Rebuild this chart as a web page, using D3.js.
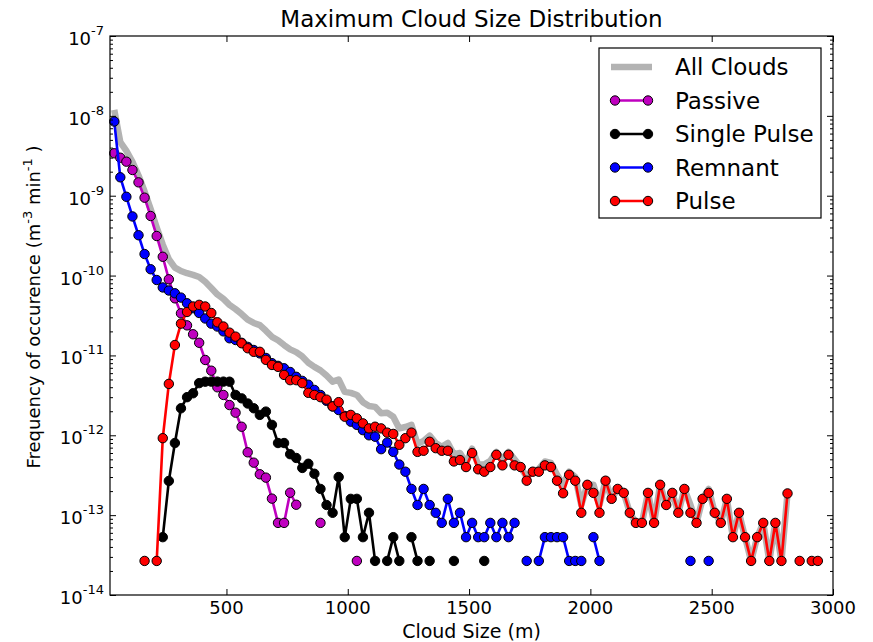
<!DOCTYPE html>
<html>
<head>
<meta charset="utf-8">
<script src="https://cdn.jsdelivr.net/npm/d3@7"></script>
<style>
  body { margin: 0; background: #fff; }
  text { font-family: "DejaVu Sans", sans-serif; fill: #000; }
</style>
</head>
<body>
<svg id="chart" width="873" height="642"></svg>
<script>
// Bin centres (m): 25 m bins starting at 37.5 m
const cloudSize = d3.range(119).map(i => 37.5 + 25 * i);

// Frequency of occurrence (m^-3 min^-1) per bin; null = empty bin
const passive = [3.4e-9,2.99e-9,2.67e-9,2.1e-9,1.47e-9,9.45e-10,5.57e-10,3.13e-10,1.72e-10,8.98e-11,
  5.19e-11,3.37e-11,2.38e-11,1.84e-11,1.44e-11,8.77e-12,6.44e-12,3.99e-12,3.2e-12,2.39e-12,
  1.92e-12,1.28e-12,6.12e-13,4.54e-13,3.25e-13,2.95e-13,1.61e-13,8.0e-14,8.0e-14,1.91e-13,
  1.35e-13,null,null,null,8.0e-14,null,null,null,null,null,2.67e-14];

const singlePulse = [null,null,null,null,null,null,null,null,5.3e-14,2.68e-13,
  8.0e-13,2.18e-12,3.0e-12,3.36e-12,4.5e-12,4.69e-12,4.7e-12,4.7e-12,4.7e-12,4.69e-12,
  3.2e-12,2.9e-12,2.5e-12,2.18e-12,1.8e-12,1.98e-12,1.35e-12,8.0e-13,8.0e-13,5.8e-13,
  5.2e-13,3.9e-13,4.4e-13,3.3e-13,2.13e-13,1.34e-13,1.07e-13,3.0e-13,5.3e-14,1.6e-13,
  1.6e-13,5.3e-14,1.07e-13,2.67e-14,null,2.67e-14,5.3e-14,2.67e-14,null,5.3e-14,
  2.67e-14,null,2.67e-14,null,null,null,2.67e-14,null,null,null,
  null,2.67e-14];

const remnant = [8.5e-9,1.7e-9,9.7e-10,5.5e-10,3.2e-10,1.86e-10,1.2e-10,8.8e-11,7.1e-11,6.5e-11,
  6.0e-11,5.3e-11,4.5e-11,3.9e-11,3.4e-11,2.9e-11,2.5e-11,2.3e-11,2.0e-11,1.64e-11,
  1.56e-11,1.44e-11,1.28e-11,1.17e-11,1.06e-11,9.3e-12,8.0e-12,7.4e-12,6.9e-12,6.2e-12,
  5.4e-12,4.8e-12,4.3e-12,3.7e-12,3.2e-12,2.7e-12,2.3e-12,2.07e-12,1.75e-12,1.48e-12,
  1.35e-12,1.16e-12,1.0e-12,9.6e-13,6.7e-13,8.1e-13,6.2e-13,4.3e-13,3.5e-13,2.13e-13,
  1.34e-13,2.13e-13,1.34e-13,1.07e-13,8.0e-14,1.6e-13,8.0e-14,1.07e-13,5.3e-14,8.0e-14,
  5.3e-14,5.3e-14,8.0e-14,5.3e-14,8.0e-14,5.3e-14,8.0e-14,null,2.67e-14,null,
  2.67e-14,5.3e-14,5.3e-14,5.3e-14,5.3e-14,2.67e-14,2.67e-14,2.67e-14,null,5.3e-14,
  2.67e-14,null,null,null,null,null,null,null,null,null,
  null,null,null,null,null,2.67e-14,null,null,2.67e-14];

const pulse = [null,null,null,null,null,2.67e-14,null,2.67e-14,9.2e-13,4.4e-12,
  1.35e-11,2.5e-11,3.5e-11,4.1e-11,4.3e-11,4.1e-11,3.4e-11,2.6e-11,2.3e-11,1.93e-11,
  1.72e-11,1.42e-11,1.23e-11,1.11e-11,1.11e-11,8.8e-12,7.6e-12,7.2e-12,5.7e-12,4.9e-12,
  4.9e-12,4.5e-12,3.4e-12,3.2e-12,3.0e-12,2.8e-12,2.3e-12,2.6e-12,1.71e-12,1.8e-12,
  1.63e-12,1.41e-12,1.22e-12,1.28e-12,1.22e-12,1.08e-12,1.04e-12,7.6e-13,9.2e-13,1.08e-12,
  6.2e-13,6.4e-13,8.3e-13,6.9e-13,6.4e-13,6.4e-13,4.7e-13,4.9e-13,4.0e-13,6.0e-13,
  3.75e-13,3.5e-13,4.0e-13,5.7e-13,4.2e-13,5.7e-13,4.2e-13,4.0e-13,2.7e-13,3.5e-13,
  3.5e-13,4.2e-13,4.0e-13,2.7e-13,1.88e-13,3.2e-13,2.7e-13,1.07e-13,2.4e-13,1.9e-13,
  1.07e-13,2.7e-13,1.6e-13,2.13e-13,1.9e-13,1.07e-13,8.0e-14,8.0e-14,1.9e-13,8.0e-14,
  2.4e-13,1.34e-13,1.9e-13,1.07e-13,2.13e-13,1.07e-13,8.0e-14,1.6e-13,1.9e-13,1.07e-13,
  8.0e-14,1.6e-13,5.3e-14,1.07e-13,5.3e-14,2.67e-14,5.3e-14,8.0e-14,2.67e-14,8.0e-14,
  2.67e-14,1.87e-13,null,2.67e-14,null,2.67e-14,2.67e-14,null,null];

const allClouds = [1.19e-8,4.7e-9,3.64e-9,2.65e-9,1.79e-9,1.13e-9,6.8e-10,4.0e-10,2.44e-10,1.6e-10,
  1.26e-10,1.14e-10,1.07e-10,1.02e-10,9.6e-11,8.35e-11,7.0e-11,5.8e-11,5.1e-11,4.3e-11,
  3.8e-11,3.3e-11,2.8e-11,2.55e-11,2.4e-11,2.04e-11,1.71e-11,1.55e-11,1.35e-11,1.19e-11,
  1.1e-11,9.7e-12,8.1e-12,7.2e-12,6.5e-12,5.6e-12,4.7e-12,5.0e-12,3.5e-12,3.4e-12,
  3.2e-12,2.6e-12,2.33e-12,2.27e-12,1.89e-12,1.92e-12,1.71e-12,1.22e-12,1.27e-12,1.35e-12,
  7.8e-13,8.5e-13,9.9e-13,8.0e-13,7.2e-13,8.0e-13,5.8e-13,6.0e-13,4.5e-13,6.8e-13,
  4.3e-13,4.3e-13,4.8e-13,6.2e-13,5.0e-13,6.2e-13,5.0e-13,4.0e-13,3.0e-13,3.5e-13,
  3.8e-13,4.7e-13,4.5e-13,3.2e-13,2.4e-13,3.5e-13,3.0e-13,1.34e-13,2.4e-13,2.4e-13,
  1.34e-13,2.7e-13,1.6e-13,2.13e-13,1.9e-13,1.07e-13,8.0e-14,8.0e-14,1.9e-13,8.0e-14,
  2.4e-13,1.34e-13,1.9e-13,1.07e-13,2.13e-13,1.34e-13,8.0e-14,1.6e-13,2.13e-13,1.07e-13,
  8.0e-14,1.6e-13,5.3e-14,1.07e-13,5.3e-14,2.67e-14,5.3e-14,8.0e-14,2.67e-14,8.0e-14,
  2.67e-14,1.87e-13];

const xTicks = [500, 1000, 1500, 2000, 2500, 3000];
const yExponents = [-14, -13, -12, -11, -10, -9, -8, -7];

const series = [
  { name: "Passive",      values: passive,     color: "#bf00bf" },
  { name: "Single Pulse", values: singlePulse, color: "#000000" },
  { name: "Remnant",      values: remnant,     color: "#0000ff" },
  { name: "Pulse",        values: pulse,       color: "#ff0000" }
];

const svg = d3.select("#chart");
const M = { left: 110, right: 833, top: 36, bottom: 595 };

const x = d3.scaleLinear().domain([20, 3000]).range([M.left, M.right]);
const y = d3.scaleLog().domain([1e-14, 1e-7]).range([M.bottom, M.top]);

const pts = vals => vals.map((v, i) => ({ x: cloudSize[i], v }));
const line = d3.line()
  .defined(d => d.v != null && d.v > 0)
  .x(d => x(d.x)).y(d => y(d.v));

const plot = svg.append("g");

// Total distribution as a thick grey band
plot.append("path")
  .datum(pts(allClouds))
  .attr("d", line)
  .attr("fill", "none")
  .attr("stroke", "#b3b3b3")
  .attr("stroke-width", 6.5)
  .attr("stroke-linejoin", "round");

series.forEach(s => {
  const g = plot.append("g");
  g.append("path")
    .datum(pts(s.values))
    .attr("d", line)
    .attr("fill", "none")
    .attr("stroke", s.color)
    .attr("stroke-width", 2.6)
    .attr("stroke-linejoin", "round");
  g.selectAll("circle")
    .data(pts(s.values).filter(d => d.v != null && d.v > 0))
    .join("circle")
    .attr("cx", d => x(d.x))
    .attr("cy", d => y(d.v))
    .attr("r", 4.7)
    .attr("fill", s.color)
    .attr("stroke", "#000")
    .attr("stroke-width", 1);
});

// Frame
svg.append("rect")
  .attr("x", M.left).attr("y", M.top)
  .attr("width", M.right - M.left).attr("height", M.bottom - M.top)
  .attr("fill", "none").attr("stroke", "#000").attr("stroke-width", 1.2);

// Ticks (pointing inward on all four sides)
const majorY = yExponents.map(e => Math.pow(10, e));
const minorY = [];
yExponents.slice(0, -1).forEach(e => { for (let m = 2; m <= 9; m++) minorY.push(m * Math.pow(10, e)); });

const noDomain = g => g.select(".domain").remove();
svg.append("g").attr("transform", `translate(0,${M.bottom})`)
  .call(d3.axisBottom(x).tickValues(xTicks).tickSize(-6).tickFormat("")).call(noDomain);
svg.append("g").attr("transform", `translate(0,${M.top})`)
  .call(d3.axisTop(x).tickValues(xTicks).tickSize(-6).tickFormat("")).call(noDomain);
svg.append("g").attr("transform", `translate(${M.left},0)`)
  .call(d3.axisLeft(y).tickValues(majorY).tickSize(-6).tickFormat("")).call(noDomain);
svg.append("g").attr("transform", `translate(${M.left},0)`)
  .call(d3.axisLeft(y).tickValues(minorY).tickSize(-3).tickFormat("")).call(noDomain);
svg.append("g").attr("transform", `translate(${M.right},0)`)
  .call(d3.axisRight(y).tickValues(majorY).tickSize(-6).tickFormat("")).call(noDomain);
svg.append("g").attr("transform", `translate(${M.right},0)`)
  .call(d3.axisRight(y).tickValues(minorY).tickSize(-3).tickFormat("")).call(noDomain);

// X tick labels
svg.append("g").selectAll("text")
  .data(xTicks).join("text")
  .attr("x", d => x(d)).attr("y", M.bottom + 19)
  .attr("text-anchor", "middle")
  .attr("font-size", 18)
  .text(d => d);

// Y tick labels: 10 with superscript exponent
const yl = svg.append("g").selectAll("text")
  .data(yExponents).join("text")
  .attr("x", M.left - 6).attr("y", d => y(Math.pow(10, d)) + 9)
  .attr("text-anchor", "end")
  .attr("font-size", 18);
yl.append("tspan").text("10");
yl.append("tspan").attr("dy", -10).attr("font-size", 13).text(d => "-" + Math.abs(d));

// Title and axis labels
svg.append("text")
  .attr("x", (M.left + M.right) / 2).attr("y", 27)
  .attr("text-anchor", "middle").attr("font-size", 23)
  .text("Maximum Cloud Size Distribution");

svg.append("text")
  .attr("x", (M.left + M.right) / 2).attr("y", 638)
  .attr("text-anchor", "middle").attr("font-size", 19)
  .text("Cloud Size (m)");

const ylab = svg.append("text")
  .attr("transform", `translate(40,307) rotate(-90)`)
  .attr("text-anchor", "middle").attr("font-size", 18);
ylab.append("tspan").text("Frequency of occurence (m");
ylab.append("tspan").attr("dy", -8).attr("font-size", 13).text("-3");
ylab.append("tspan").attr("dy", 8).text(" min");
ylab.append("tspan").attr("dy", -8).attr("font-size", 13).text("-1");
ylab.append("tspan").attr("dy", 8).text(" )");

// Legend
const legendItems = [{ name: "All Clouds", color: "#b3b3b3", band: true }]
  .concat(series.map(s => ({ name: s.name, color: s.color, band: false })));
const lg = svg.append("g");
lg.append("rect")
  .attr("x", 599).attr("y", 48).attr("width", 222).attr("height", 170)
  .attr("fill", "#fff").attr("stroke", "#000").attr("stroke-width", 1.2);
legendItems.forEach((d, i) => {
  const cy = 67 + i * 33.5;
  lg.append("line")
    .attr("x1", 611).attr("x2", 652).attr("y1", cy).attr("y2", cy)
    .attr("stroke", d.color).attr("stroke-width", d.band ? 6.5 : 2.6);
  if (!d.band) {
    [615, 648].forEach(cx => lg.append("circle")
      .attr("cx", cx).attr("cy", cy).attr("r", 4.7)
      .attr("fill", d.color).attr("stroke", "#000").attr("stroke-width", 1));
  }
  lg.append("text")
    .attr("x", 675).attr("y", cy + 8)
    .attr("font-size", 23)
    .text(d.name);
});
</script>
</body>
</html>
